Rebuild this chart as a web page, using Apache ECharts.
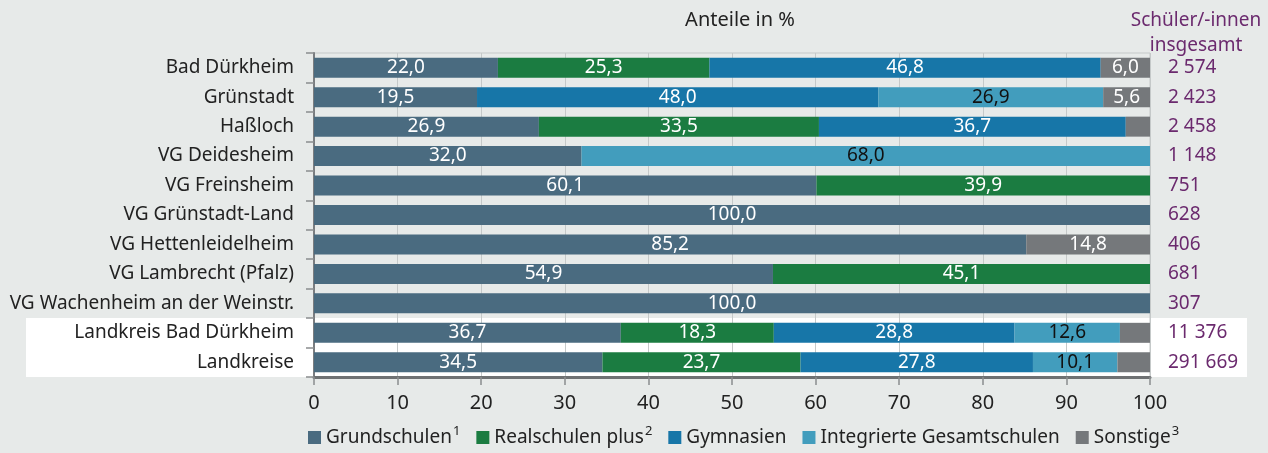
<!DOCTYPE html>
<html>
<head>
<meta charset="utf-8">
<title>Schulen Bad Dürkheim</title>
<script src="https://cdn.jsdelivr.net/npm/echarts@6/dist/echarts.min.js"></script>
<style>
  html, body { margin: 0; padding: 0; background: #e7eae9; }
</style>
</head>
<body>
<div id="main" style="width:1268px;height:453px;"></div>
<script type="text/javascript">
// Kategorien (Gemeinden / Verbandsgemeinden)
var orte = ['Bad Dürkheim', 'Grünstadt', 'Haßloch', 'VG Deidesheim', 'VG Freinsheim',
    'VG Grünstadt-Land', 'VG Hettenleidelheim', 'VG Lambrecht (Pfalz)',
    'VG Wachenheim an der Weinstr.', 'Landkreis Bad Dürkheim', 'Landkreise'];

// Anteile in %
var grundschulen  = [22.0, 19.5, 26.9, 32.0, 60.1, 100.0, 85.2, 54.9, 100.0, 36.7, 34.5];
var realschulen   = [25.3, 0, 33.5, 0, 39.9, 0, 0, 45.1, 0, 18.3, 23.7];
var gymnasien     = [46.8, 48.0, 36.7, 0, 0, 0, 0, 0, 0, 28.8, 27.8];
var gesamtschulen = [0, 26.9, 0, 68.0, 0, 0, 0, 0, 0, 12.6, 10.1];
var sonstige      = [6.0, 5.6, 2.9, 0, 0, 0, 14.8, 0, 0, 3.6, 3.9];

// Schüler/-innen insgesamt
var insgesamt = ['2 574', '2 423', '2 458', '1 148', '751', '628', '406', '681', '307', '11 376', '291 669'];

var xTicks = [0, 10, 20, 30, 40, 50, 60, 70, 80, 90, 100];

var fontName = '"Noto Sans", sans-serif';

function fmt(p) {
    if (p.value < 5) return '';
    return p.value.toFixed(1).replace('.', ',');
}

function bar(name, data, color, labelColor) {
    return {
        name: name,
        type: 'bar',
        stack: 'gesamt',
        data: data,
        barWidth: 20,
        itemStyle: { color: color },
        label: {
            show: true,
            position: 'inside',
            color: labelColor,
            fontSize: 19,
            fontFamily: fontName,
            formatter: fmt
        },
        emphasis: { disabled: true }
    };
}

var myChart = echarts.init(document.getElementById('main'));

var option = {
    backgroundColor: '#e7eae9',
    animation: false,
    textStyle: { fontFamily: fontName },
    title: [{
        text: 'Anteile in %',
        left: 735,
        top: 5,
        textAlign: 'center',
        textStyle: { fontSize: 20, fontWeight: 'normal', color: '#222' }
    }, {
        text: 'Schüler/-innen\ninsgesamt',
        left: 1191,
        top: 3,
        textAlign: 'center',
        textStyle: { fontSize: 19, fontWeight: 'normal', color: '#6b2a6e', lineHeight: 25 }
    }],
    grid: {
        left: 314,
        right: 118,
        top: 53,
        bottom: 76,
        show: true,
        borderColor: '#c5c9c9',
        borderWidth: 1,
        backgroundColor: 'transparent'
    },
    legend: {
        bottom: 6,
        left: 308,
        padding: 0,
        icon: 'rect',
        itemWidth: 13,
        itemHeight: 13,
        itemGap: 16,
        itemStyle: { borderWidth: 0 },
        selectedMode: false,
        textStyle: {
            fontSize: 19,
            color: '#222',
            rich: {
                t: { fontSize: 19, color: '#222' },
                s: { fontSize: 13, color: '#222', padding: [0, 0, 12, 1] }
            }
        },
        formatter: function (name) {
            var sup = { 'Grundschulen': '1', 'Realschulen plus': '2', 'Sonstige': '3' };
            if (sup[name]) return '{t|' + name + '}{s|' + sup[name] + '}';
            return '{t|' + name + '}';
        },
        data: ['Grundschulen', 'Realschulen plus', 'Gymnasien', 'Integrierte Gesamtschulen', 'Sonstige']
    },
    xAxis: {
        type: 'value',
        min: xTicks[0],
        max: xTicks[xTicks.length - 1],
        interval: 10,
        axisLine: { show: true, lineStyle: { color: '#6e7173', width: 3 } },
        axisTick: { show: true, length: 8, lineStyle: { color: '#8a8d8f', width: 1.5 } },
        axisLabel: { fontSize: 20, color: '#222', margin: 16 },
        splitLine: { show: true, lineStyle: { color: '#c5c9c9', width: 1 } }
    },
    yAxis: [{
        type: 'category',
        inverse: true,
        data: orte,
        axisLine: { show: true, lineStyle: { color: '#7a7d80', width: 2 } },
        axisTick: { show: true, length: 8, lineStyle: { color: '#8a8d8f', width: 1.5 } },
        axisLabel: { fontSize: 19, color: '#222', margin: 20 }
    }, {
        type: 'category',
        inverse: true,
        position: 'right',
        data: insgesamt,
        axisLine: { show: false },
        axisTick: { show: false },
        axisLabel: { fontSize: 19, color: '#6b2a6e', margin: 18 }
    }],
    series: [
        bar('Grundschulen', grundschulen, '#4a6b80', '#fff'),
        bar('Realschulen plus', realschulen, '#1b7c41', '#fff'),
        bar('Gymnasien', gymnasien, '#1776a8', '#fff'),
        bar('Integrierte Gesamtschulen', gesamtschulen, '#429dbd', '#111'),
        bar('Sonstige', sonstige, '#75787b', '#fff')
    ]
};

myChart.setOption(option);

// weißes Band hinter den beiden Landkreis-Zeilen
var yA = myChart.convertToPixel({ yAxisIndex: 0 }, orte[orte.length - 2]);
var yB = myChart.convertToPixel({ yAxisIndex: 0 }, orte[orte.length - 1]);
var step = yB - yA;
myChart.setOption({
    graphic: [{
        type: 'rect',
        z: -10,
        silent: true,
        shape: { x: 26, y: yA - step / 2, width: 1221, height: step * 2 },
        style: { fill: '#ffffff' }
    }]
});
</script>
</body>
</html>
